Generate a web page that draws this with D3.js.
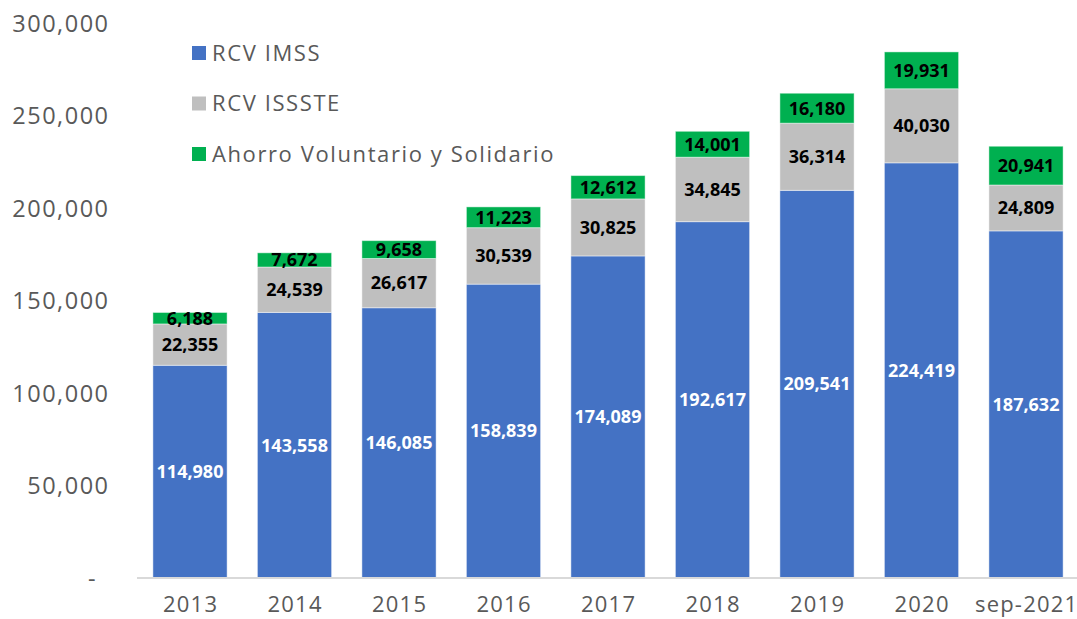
<!DOCTYPE html>
<html><head><meta charset="utf-8">
<script src="https://cdn.jsdelivr.net/npm/d3@7"></script>
<style>
html,body{margin:0;padding:0;background:#fff;}
svg{display:block;}
text{font-family:"Open Sans","Noto Sans",sans-serif;}
</style></head>
<body><svg id="chart" width="1077" height="619"></svg>
<script>
const categories = ["2013","2014","2015","2016","2017","2018","2019","2020","sep-2021"];
const rcvImss =   [114980,143558,146085,158839,174089,192617,209541,224419,187632];
const rcvIssste = [22355,24539,26617,30539,30825,34845,36314,40030,24809];
const ahorroVol = [6188,7672,9658,11223,12612,14001,16180,19931,20941];
const seriesNames = ["RCV IMSS","RCV ISSSTE","Ahorro Voluntario y Solidario"];
const seriesColors = ["#4472C4","#BFBFBF","#00B050"];
const labelColors = ["#ffffff","#000000","#000000"];
const yTicks = [0,50000,100000,150000,200000,250000,300000];

const svg = d3.select("#chart");
const rows = categories.map((c,i)=>({cat:c, s0:rcvImss[i], s1:rcvIssste[i], s2:ahorroVol[i]}));
const stack = d3.stack().keys(["s0","s1","s2"])(rows);

const step = 104.5;
const x0 = 190 - step/2;
const x = d3.scaleBand().domain(categories).range([x0, x0 + step*categories.length]).paddingInner(0.29).paddingOuter(0.145);
const y = d3.scaleLinear().domain([0,300000]).range([578,23]);

// y axis labels
const fmt = d3.format(",");
const yAxis = d3.axisLeft(y).tickValues(yTicks).tickSize(0).tickPadding(0)
  .tickFormat(d => d===0 ? "-" : fmt(d));
const yg = svg.append("g").attr("transform","translate(109.5,0)").call(yAxis);
yg.select(".domain").remove();
yg.selectAll("text").attr("font-size",23.5).attr("fill","#595959")
  .attr("font-family",'"Open Sans",sans-serif').attr("dy","0.35em")
  .attr("letter-spacing", d => d===0 ? 0 : 1.5)
  .attr("dx", d => d===0 ? -14 : 0);

// bars
const g = svg.append("g");
stack.forEach((layer, li) => {
  g.selectAll(null).data(layer).enter().append("rect")
    .attr("x", d => x(d.data.cat))
    .attr("width", x.bandwidth())
    .attr("y", d => y(d[1]))
    .attr("height", d => y(d[0]) - y(d[1]))
    .attr("fill", seriesColors[li])
    .attr("stroke","#ffffff").attr("stroke-opacity",0.45).attr("stroke-width",1);
});

// x axis
const xAxis = d3.axisBottom(x).tickSize(0).tickPadding(0);
const xg = svg.append("g").attr("transform","translate(0,578)").call(xAxis);
xg.select(".domain").remove();
svg.append("line").attr("x1",137).attr("x2",1077).attr("y1",578).attr("y2",578)
  .attr("stroke","#D9D9D9").attr("stroke-width",2);
xg.selectAll("text").attr("font-size",22).attr("fill","#595959")
  .attr("font-family",'"Open Sans",sans-serif').attr("y",34).attr("dy",null)
  .attr("letter-spacing",1.2).attr("dx",0.6);

// labels
stack.forEach((layer, li) => {
  g.selectAll(null).data(layer).enter().append("text")
    .attr("x", d => x(d.data.cat) + x.bandwidth()/2)
    .attr("y", d => (y(d[0]) + y(d[1]))/2)
    .attr("dy","0.35em")
    .attr("text-anchor","middle")
    .attr("font-size",18).attr("font-weight","bold")
    .attr("fill", labelColors[li])
    .text(d => fmt(d[1]-d[0]));
});

// legend
const leg = svg.append("g");
seriesNames.forEach((n,i)=>{
  const cy = 53 + i*50.5;
  leg.append("rect").attr("x",192).attr("y",cy-7).attr("width",14).attr("height",14).attr("fill",seriesColors[i]);
  leg.append("text").attr("x",212).attr("y",cy).attr("dy","0.35em")
    .attr("font-size",22).attr("letter-spacing",1.6).attr("fill","#595959").text(n);
});
</script></body></html>
